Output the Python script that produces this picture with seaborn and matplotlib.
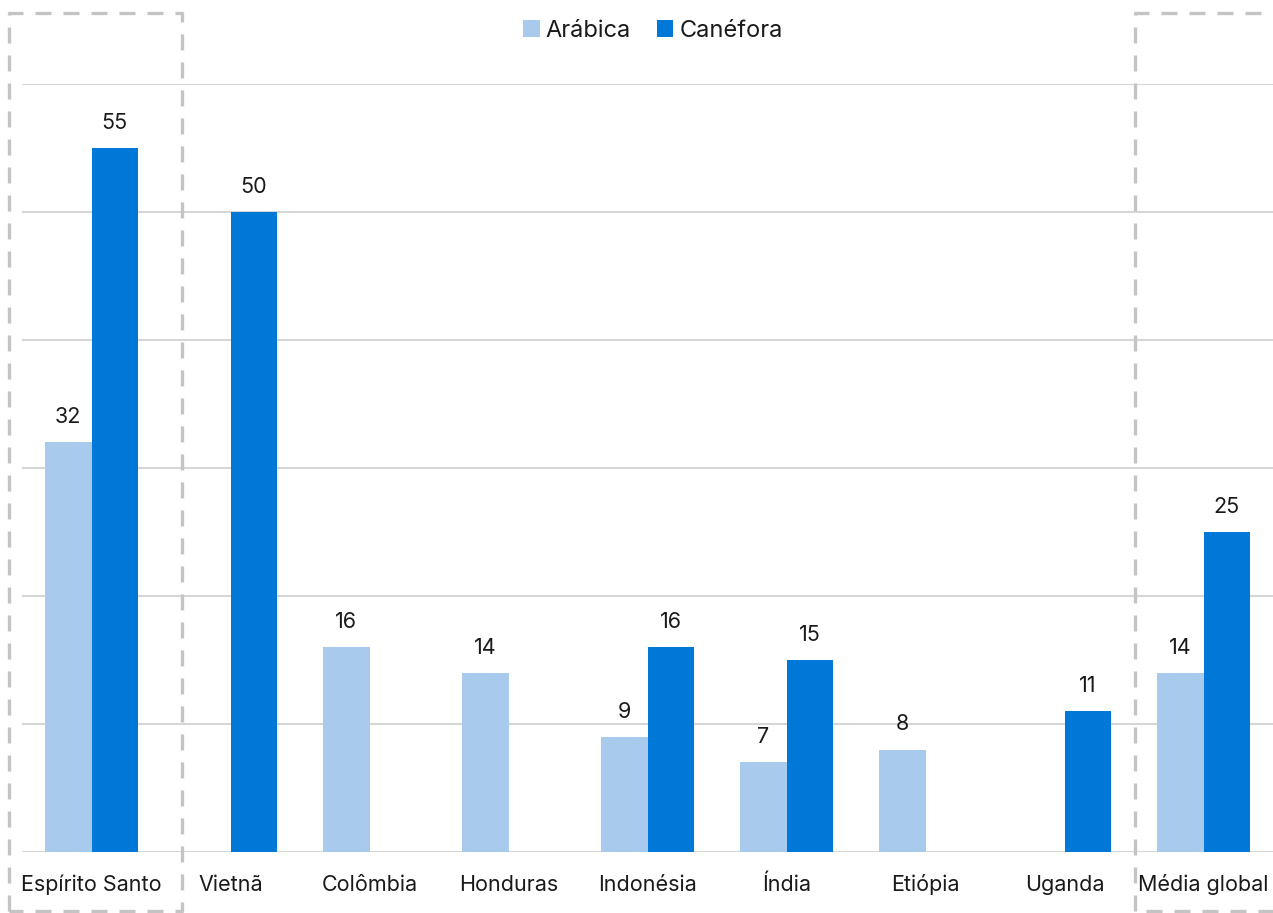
import numpy as np
import pandas as pd
import matplotlib
matplotlib.use("Agg")
import matplotlib.pyplot as plt
from matplotlib.lines import Line2D
import seaborn as sns

# Produtividade por região e espécie de café
regioes = ["Espírito Santo", "Vietnã", "Colômbia", "Honduras", "Indonésia",
           "Índia", "Etiópia", "Uganda", "Média global"]
arabica = [32, np.nan, 16, 14, 9, 7, 8, np.nan, 14]
canefora = [55, 50, np.nan, np.nan, 16, 15, np.nan, 11, 25]
especies = ["Arábica", "Canéfora"]
cores = ["#A8CAEC", "#0078D7"]

df = pd.DataFrame({
    "regiao": regioes * 2,
    "especie": [especies[0]] * len(regioes) + [especies[1]] * len(regioes),
    "valor": arabica + canefora,
})

sns.set_theme(style="white")
plt.rcParams["font.family"] = ["Inter", "DejaVu Sans"]

W, H = 1273, 913
fig = plt.figure(figsize=(W / 100, H / 100), dpi=100)
ax = fig.add_axes([22 / W, (H - 852) / H, 1 - 22 / W, (852 - 84) / H])

sns.barplot(data=df, x="regiao", y="valor", hue="especie", order=regioes,
            hue_order=especies, palette=cores, dodge=True, width=0.67,
            errorbar=None, saturation=1, linewidth=0, ax=ax, legend=True)

for cont in ax.containers:
    ax.bar_label(cont, fmt="%.0f", padding=11, fontsize=15.5, color="#1a1a1a")

ax.set_ylim(0, 60)
ax.set_xlim(-0.5, len(regioes) - 0.5)
ax.set_yticks(np.arange(0, 61, 10))
ax.set_yticklabels([])
ax.yaxis.grid(True, color="#d6d6d6", linewidth=1.5)
ax.set_axisbelow(True)
for s in ax.spines.values():
    s.set_visible(False)
ax.tick_params(axis="x", length=0, pad=28, labelsize=15.5, labelcolor="#1a1a1a")
for lbl in ax.get_xticklabels():
    lbl.set_va("baseline")
ax.tick_params(axis="y", length=0)
ax.set_xlabel("")
ax.set_ylabel("")

leg = ax.legend(loc="center", bbox_to_anchor=(653 / W, (H - 31) / H),
                bbox_transform=fig.transFigure, ncol=2, frameon=False,
                fontsize=17, handlelength=0.7, handleheight=0.7,
                handletextpad=0.25, columnspacing=1.1, borderaxespad=0)
for t in leg.get_texts():
    t.set_color("#1a1a1a")

# Molduras tracejadas destacando o Espírito Santo e a média global
dash = dict(color="#c4c4c4", linewidth=2.4, linestyle=(0, (4.8, 3.6)),
            transform=fig.transFigure, clip_on=False)

def px(x, y):
    return x / W, 1 - y / H

def frame(x0, y0, x1, y1):
    pts = [px(x0, y1), px(x0, y0), px(x1, y0), px(x1, y1), px(x0, y1)]
    xs, ys = zip(*pts)
    fig.add_artist(Line2D(xs, ys, **dash))

frame(9, 13, 182, 911)
frame(1135, 13, 1290, 911)

fig.savefig("out.png", dpi=100)
